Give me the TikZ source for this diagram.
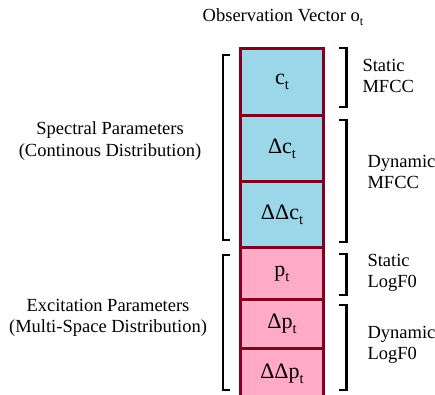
\documentclass[tikz,border=0pt]{standalone}
\usepackage{fontspec}
\setmainfont{Liberation Serif}
\usetikzlibrary{positioning}

\definecolor{boxred}{RGB}{128,0,32}
\definecolor{specblue}{RGB}{155,215,232}
\definecolor{excpink}{RGB}{255,170,198}

% word-style subscript t
\newcommand{\tsub}{\raisebox{-0.22em}{\scalebox{0.66}{t}}}

\tikzset{
    vecbox/.style={draw=boxred, line width=3pt, minimum width=82.5pt, inner sep=0pt,
        outer sep=0pt, font=\fontsize{22}{26}\selectfont},
    specbox/.style={vecbox, fill=specblue},
    excbox/.style={vecbox, fill=excpink},
    brkt/.style={line width=2.8pt},
    sidelabel/.style={align=left, anchor=west, font=\fontsize{18.5}{21.5}\selectfont},
    grouplabel/.style={align=center, font=\fontsize{18.5}{21.5}\selectfont}
}

\begin{document}
\begin{tikzpicture}[x=1pt, y=-1pt]
    \useasboundingbox (0,0) rectangle (435,394);

    \node[grouplabel] (title) at (283,17) {Observation Vector o\tsub};

    % the observation vector
    \node[specbox, minimum height=67pt, anchor=north] (c) at (282,48.5) {c\tsub};
    \node[specbox, minimum height=66pt, below=0pt of c] (dc) {Δc\tsub};
    \node[specbox, minimum height=66pt, below=0pt of dc] (ddc) {ΔΔc\tsub};
    \node[excbox, minimum height=52pt, below=0pt of ddc] (p) {p\tsub};
    \node[excbox, minimum height=48.5pt, below=0pt of p] (dp) {Δp\tsub};
    \node[excbox, minimum height=52pt, below=0pt of dp] (ddp) {ΔΔp\tsub};

    % left brackets
    \draw[brkt] (230,55) -- (223,55) -- (223,240) -- (230,240);
    \draw[brkt] (230,255) -- (223,255) -- (223,390) -- (230,390);
    \node[grouplabel] (spec) at (110,141) {Spectral Parameters\\(Continous Distribution)};
    \node[grouplabel] (exc) at (108,318) {Excitation Parameters\\(Multi-Space Distribution)};

    % right brackets
    \draw[brkt] (339,48) -- (346.5,48) -- (346.5,107) -- (339,107);
    \draw[brkt] (339,120) -- (346.5,120) -- (346.5,242) -- (339,242);
    \draw[brkt] (339,254) -- (346.5,254) -- (346.5,295) -- (339,295);
    \draw[brkt] (339,305) -- (346.5,305) -- (346.5,390) -- (339,390);
    \node[sidelabel] (smfcc) at (359,76) {Static\\MFCC};
    \node[sidelabel] (dmfcc) at (364,172) {Dynamic\\MFCC};
    \node[sidelabel] (slogf) at (364,273) {Static\\LogF0};
    \node[sidelabel] (dlogf) at (364,345) {Dynamic\\LogF0};
\end{tikzpicture}
\end{document}
